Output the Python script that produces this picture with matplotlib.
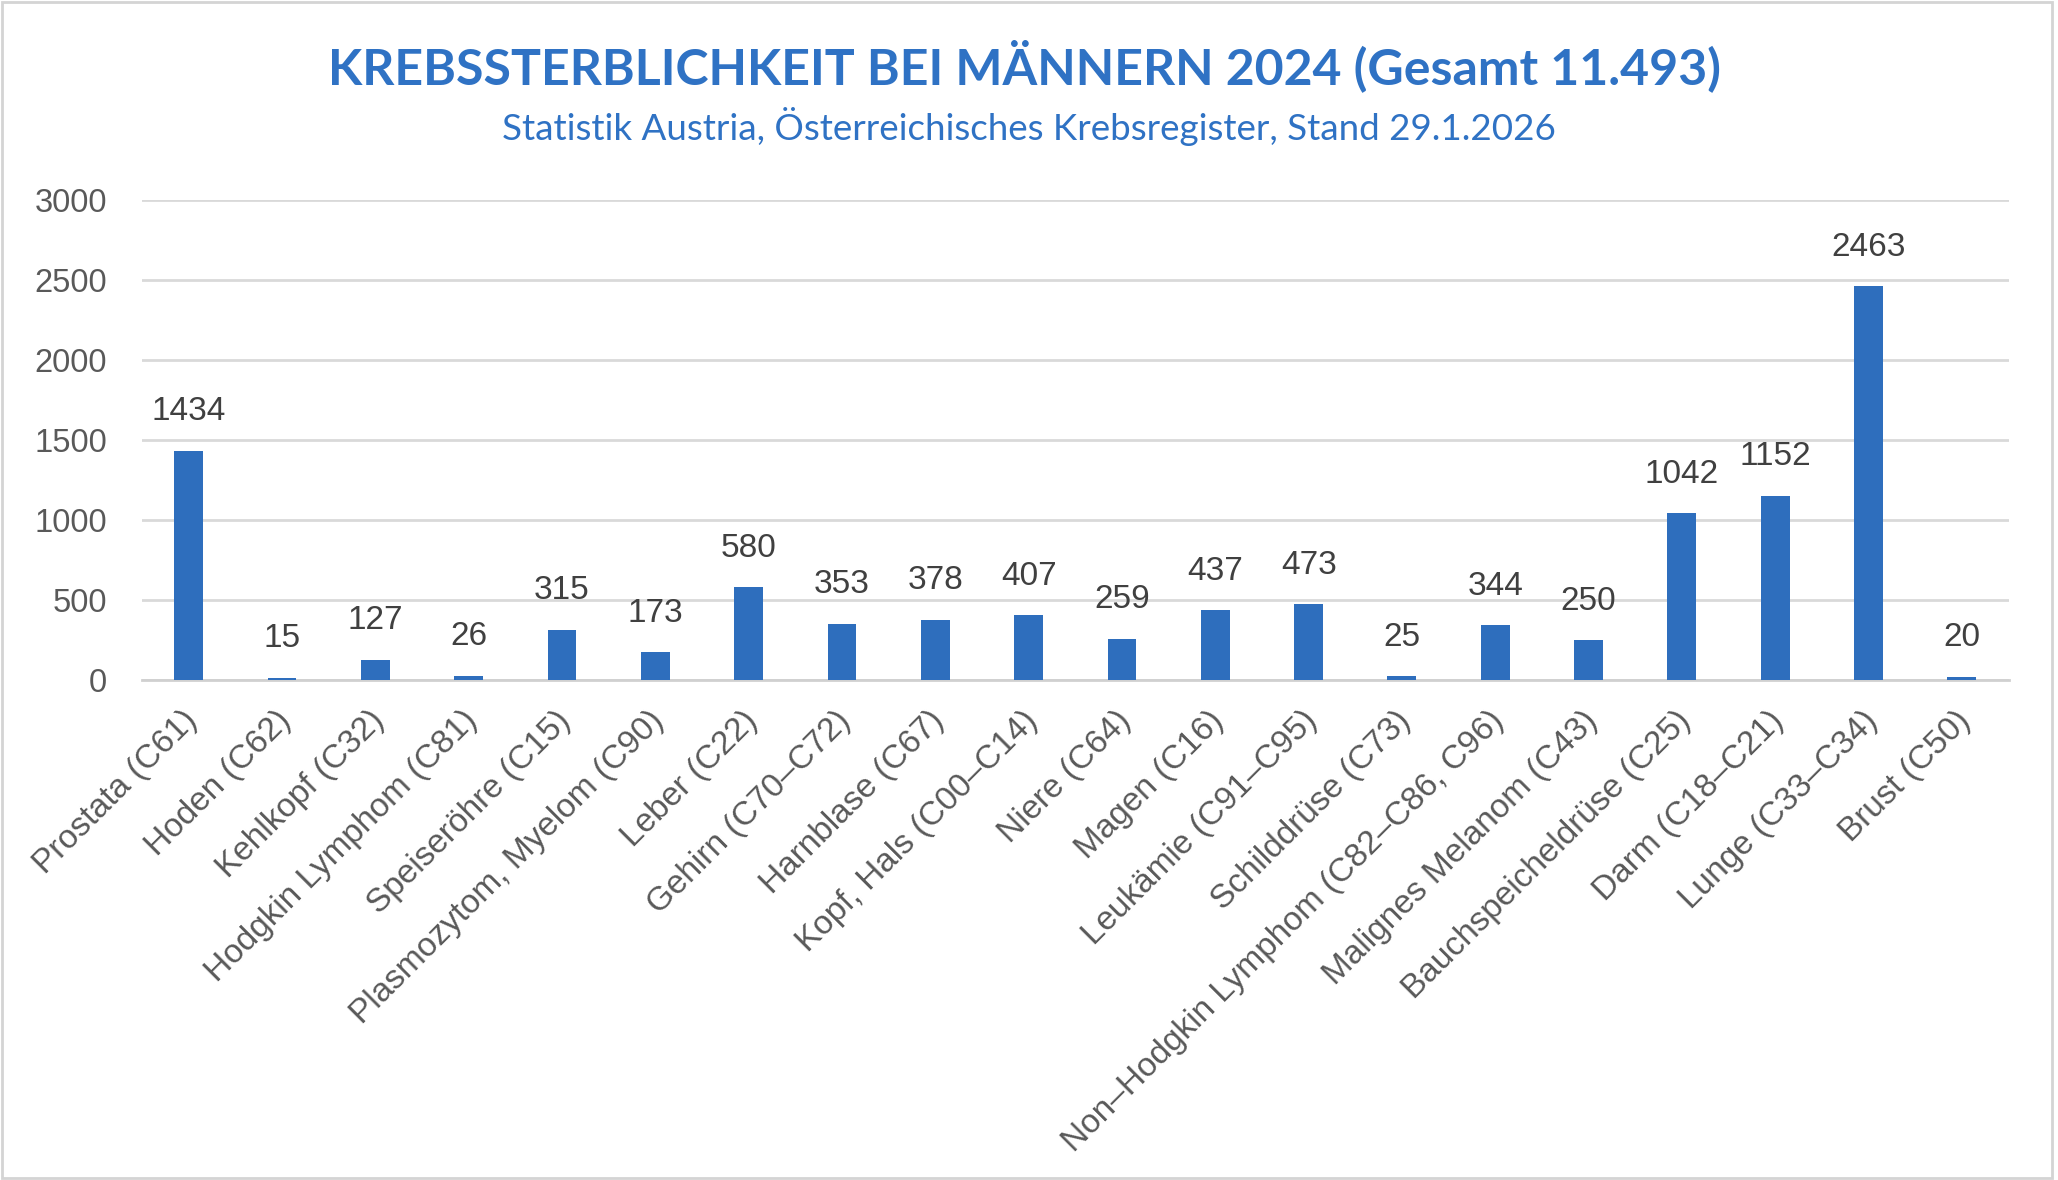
import matplotlib.pyplot as plt
from matplotlib.patches import Rectangle
from matplotlib.transforms import ScaledTranslation

# Daten: Krebssterblichkeit bei Maennern 2024
kategorien = [
    "Prostata (C61)", "Hoden (C62)", "Kehlkopf (C32)", "Hodgkin Lymphom (C81)",
    "Speiseröhre (C15)", "Plasmozytom, Myelom (C90)", "Leber (C22)",
    "Gehirn (C70–C72)", "Harnblase (C67)", "Kopf, Hals (C00–C14)", "Niere (C64)",
    "Magen (C16)", "Leukämie (C91–C95)", "Schilddrüse (C73)",
    "Non–Hodgkin Lymphom (C82–C86, C96)", "Malignes Melanom (C43)",
    "Bauchspeicheldrüse (C25)", "Darm (C18–C21)", "Lunge (C33–C34)", "Brust (C50)",
]
todesfaelle = [1434, 15, 127, 26, 315, 173, 580, 353, 378, 407,
               259, 437, 473, 25, 344, 250, 1042, 1152, 2463, 20]
y_ticks = [0, 500, 1000, 1500, 2000, 2500, 3000]

BLAU = "#2E6EBD"
TITEL_BLAU = "#2F72C4"
GRAU = "#595959"

plt.rcParams['font.family'] = ['Liberation Sans', 'DejaVu Sans']

fig = plt.figure(figsize=(20.58, 11.8), dpi=100)
ax = fig.add_axes([0.069, 0.4237, 0.907, 0.4068])

x = list(range(len(kategorien)))
bars = ax.bar(x, todesfaelle, width=0.31, color=BLAU, zorder=3)

# Datenbeschriftungen ueber den Balken
for xi, v in zip(x, todesfaelle):
    ax.annotate(str(v), (xi, v), xytext=(0, 28), textcoords='offset points',
                ha='center', va='center', fontsize=24, color='#404040')

ax.set_xlim(-0.5, len(kategorien) - 0.5)
ax.set_ylim(0, 3000)
ax.set_yticks(y_ticks)
ax.set_yticklabels([str(t) for t in y_ticks], fontsize=23.5, color=GRAU)
ax.set_xticks(x)
ax.set_xticklabels(kategorien, rotation=45, ha='right', va='top',
                   rotation_mode='anchor', fontsize=24, color=GRAU)
ax.tick_params(axis='y', length=0, pad=25)
ax.tick_params(axis='x', length=0, pad=18)

# Beschriftungen etwas nach links verschieben
verschiebung = ScaledTranslation(-5 / 72, 0, fig.dpi_scale_trans)
for lbl in ax.get_xticklabels():
    lbl.set_transform(lbl.get_transform() + verschiebung)

ax.grid(axis='y', color='#D9D9D9', linewidth=2, zorder=0)
for s in ['top', 'right', 'left']:
    ax.spines[s].set_visible(False)
ax.spines['bottom'].set_color('#D0D0D0')
ax.spines['bottom'].set_linewidth(2)
ax.spines['bottom'].set_zorder(2)

fig.text(0.498, 1 - 66 / 1180, "KREBSSTERBLICHKEIT BEI MÄNNERN 2024 (Gesamt 11.493)",
         ha='center', va='center', fontsize=36, fontweight='bold',
         color=TITEL_BLAU, family=['Lato', 'DejaVu Sans'])
fig.text(0.5, 1 - 126 / 1180, "Statistik Austria, Österreichisches Krebsregister, Stand 29.1.2026",
         ha='center', va='center', fontsize=26.5, color=TITEL_BLAU,
         family=['Lato', 'DejaVu Sans'])

# Rahmen um das Diagramm
fig.patches.append(Rectangle((0.001, 0.002), 0.996, 0.996, transform=fig.transFigure,
                             fill=False, edgecolor='#D4D4D4', linewidth=2))

fig.savefig("out.png", dpi=100)
